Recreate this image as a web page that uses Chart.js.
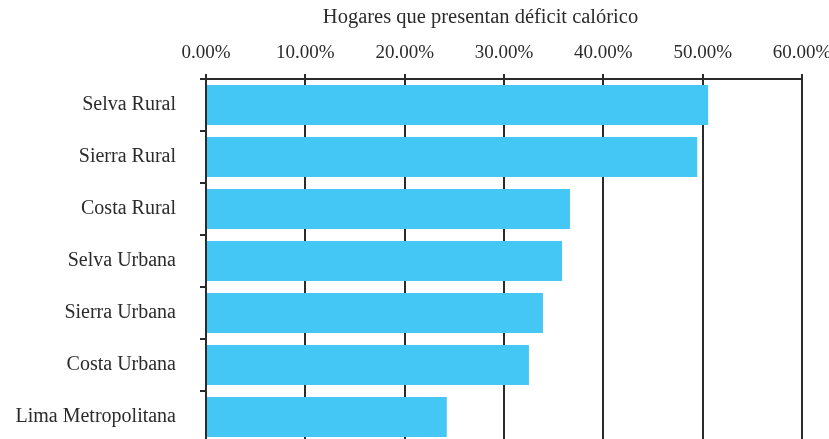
<!DOCTYPE html>
<html>
<head>
<meta charset="utf-8">
<script src="https://cdn.jsdelivr.net/npm/chart.js@4.4.0/dist/chart.umd.min.js"></script>
<style>
  html, body { margin: 0; padding: 0; background: #fff; overflow: hidden; }
  #wrap { position: relative; width: 829px; height: 446px; }
</style>
</head>
<body>
<div id="wrap"><canvas id="chart"></canvas></div>
<script>
// Hogares con déficit calórico por dominio geográfico
const regions = ['Selva Rural', 'Sierra Rural', 'Costa Rural', 'Selva Urbana', 'Sierra Urbana', 'Costa Urbana', 'Lima Metropolitana'];
const deficitPct = [50.55, 49.45, 36.64, 35.84, 33.92, 32.51, 24.24];
const axisTitle = 'Hogares que presentan déficit calórico';
const axisMax = 60;
const axisStep = 10;

const ink = '#2b2b2b';
const serif = "'Liberation Serif', 'DejaVu Serif', serif";

// the original title sits a bit right of the canvas centre
const titleNudge = {
  id: 'titleNudge',
  afterLayout(chart) {
    if (chart.titleBlock) chart.titleBlock.left += 132;
  }
};

const ctx = document.getElementById('chart').getContext('2d');
new Chart(ctx, {
  type: 'bar',
  data: {
    labels: regions,
    datasets: [{
      label: axisTitle,
      data: deficitPct,
      backgroundColor: '#45C7F5',
      borderWidth: 0,
      categoryPercentage: 0.77,
      barPercentage: 1
    }]
  },
  options: {
    indexAxis: 'y',
    responsive: true,
    maintainAspectRatio: false,
    animation: false,
    layout: { padding: { left: 0, right: 0, top: 0, bottom: 3 } },
    plugins: {
      legend: { display: false },
      tooltip: { enabled: false },
      title: {
        display: true,
        text: axisTitle,
        color: ink,
        font: { family: serif, size: 20.5, weight: 'normal' },
        padding: { top: 5, bottom: 0 }
      }
    },
    scales: {
      x: {
        position: 'top',
        min: 0,
        max: axisMax,
        ticks: {
          stepSize: axisStep,
          color: ink,
          padding: 10,
          font: { family: serif, size: 19 },
          callback: v => v.toFixed(2) + '%'
        },
        grid: { color: ink, lineWidth: 2, tickLength: 5, drawTicks: true },
        border: { display: true, color: ink, width: 2 },
        afterFit: s => { s.height = 49.4; s.paddingLeft = 0; s.paddingRight = 27; }
      },
      y: {
        ticks: {
          color: ink,
          padding: 24,
          font: { family: serif, size: 20 }
        },
        grid: { offset: true, drawOnChartArea: false, drawTicks: true, tickLength: 6, color: ink, lineWidth: 2 },
        border: { display: true, color: ink, width: 2 },
        afterFit: s => { s.width = 206; s.paddingTop = 0; s.paddingBottom = 0; }
      }
    }
  },
  plugins: [titleNudge]
});
</script>
</body>
</html>
